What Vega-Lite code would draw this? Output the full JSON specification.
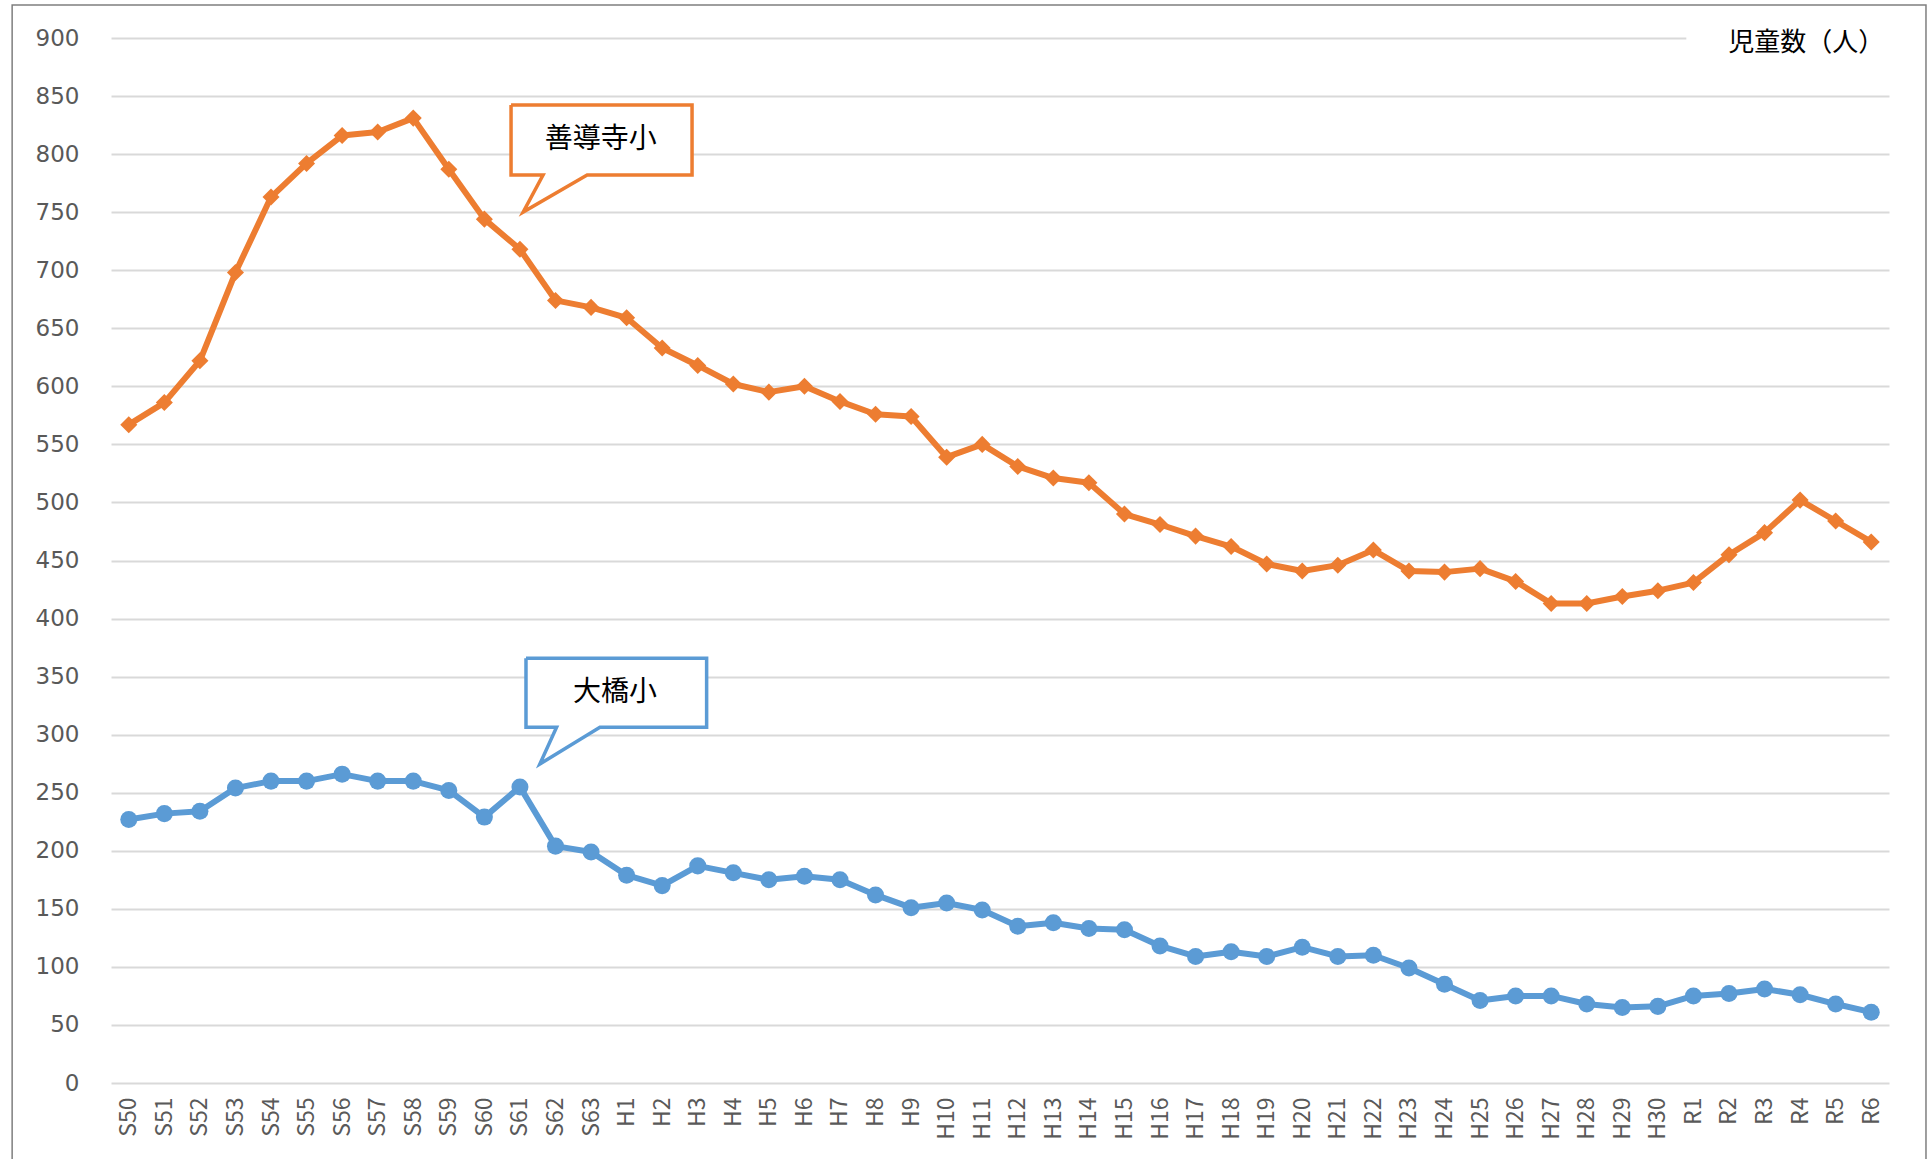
{
  "$schema": "https://vega.github.io/schema/vega-lite/v6.json",
  "width": 1778,
  "height": 1045,
  "autosize": {"type": "none"},
  "padding": {"left": 111, "top": 38, "right": 41, "bottom": 76},
  "background": "white",
  "config": {"view": {"stroke": null}},
  "datasets": {
    "series": [
      {"cat": "S50", "school": "善導寺小", "v": 567}, {"cat": "S51", "school": "善導寺小", "v": 586}, {"cat": "S52", "school": "善導寺小", "v": 622}, {"cat": "S53", "school": "善導寺小", "v": 698}, {"cat": "S54", "school": "善導寺小", "v": 763}, {"cat": "S55", "school": "善導寺小", "v": 792}, {"cat": "S56", "school": "善導寺小", "v": 816}, {"cat": "S57", "school": "善導寺小", "v": 819}, {"cat": "S58", "school": "善導寺小", "v": 831}, {"cat": "S59", "school": "善導寺小", "v": 787},
      {"cat": "S60", "school": "善導寺小", "v": 744}, {"cat": "S61", "school": "善導寺小", "v": 718}, {"cat": "S62", "school": "善導寺小", "v": 674}, {"cat": "S63", "school": "善導寺小", "v": 668}, {"cat": "H1", "school": "善導寺小", "v": 659}, {"cat": "H2", "school": "善導寺小", "v": 633}, {"cat": "H3", "school": "善導寺小", "v": 618}, {"cat": "H4", "school": "善導寺小", "v": 602}, {"cat": "H5", "school": "善導寺小", "v": 595}, {"cat": "H6", "school": "善導寺小", "v": 600},
      {"cat": "H7", "school": "善導寺小", "v": 587}, {"cat": "H8", "school": "善導寺小", "v": 576}, {"cat": "H9", "school": "善導寺小", "v": 574}, {"cat": "H10", "school": "善導寺小", "v": 539}, {"cat": "H11", "school": "善導寺小", "v": 550}, {"cat": "H12", "school": "善導寺小", "v": 531}, {"cat": "H13", "school": "善導寺小", "v": 521}, {"cat": "H14", "school": "善導寺小", "v": 517}, {"cat": "H15", "school": "善導寺小", "v": 490}, {"cat": "H16", "school": "善導寺小", "v": 481},
      {"cat": "H17", "school": "善導寺小", "v": 471}, {"cat": "H18", "school": "善導寺小", "v": 462}, {"cat": "H19", "school": "善導寺小", "v": 447}, {"cat": "H20", "school": "善導寺小", "v": 441}, {"cat": "H21", "school": "善導寺小", "v": 446}, {"cat": "H22", "school": "善導寺小", "v": 459}, {"cat": "H23", "school": "善導寺小", "v": 441}, {"cat": "H24", "school": "善導寺小", "v": 440}, {"cat": "H25", "school": "善導寺小", "v": 443}, {"cat": "H26", "school": "善導寺小", "v": 432},
      {"cat": "H27", "school": "善導寺小", "v": 413}, {"cat": "H28", "school": "善導寺小", "v": 413}, {"cat": "H29", "school": "善導寺小", "v": 419}, {"cat": "H30", "school": "善導寺小", "v": 424}, {"cat": "R1", "school": "善導寺小", "v": 431}, {"cat": "R2", "school": "善導寺小", "v": 455}, {"cat": "R3", "school": "善導寺小", "v": 474}, {"cat": "R4", "school": "善導寺小", "v": 502}, {"cat": "R5", "school": "善導寺小", "v": 484}, {"cat": "R6", "school": "善導寺小", "v": 466},
      {"cat": "S50", "school": "大橋小", "v": 227}, {"cat": "S51", "school": "大橋小", "v": 232}, {"cat": "S52", "school": "大橋小", "v": 234}, {"cat": "S53", "school": "大橋小", "v": 254}, {"cat": "S54", "school": "大橋小", "v": 260}, {"cat": "S55", "school": "大橋小", "v": 260}, {"cat": "S56", "school": "大橋小", "v": 266}, {"cat": "S57", "school": "大橋小", "v": 260}, {"cat": "S58", "school": "大橋小", "v": 260}, {"cat": "S59", "school": "大橋小", "v": 252},
      {"cat": "S60", "school": "大橋小", "v": 229}, {"cat": "S61", "school": "大橋小", "v": 255}, {"cat": "S62", "school": "大橋小", "v": 204}, {"cat": "S63", "school": "大橋小", "v": 199}, {"cat": "H1", "school": "大橋小", "v": 179}, {"cat": "H2", "school": "大橋小", "v": 170}, {"cat": "H3", "school": "大橋小", "v": 187}, {"cat": "H4", "school": "大橋小", "v": 181}, {"cat": "H5", "school": "大橋小", "v": 175}, {"cat": "H6", "school": "大橋小", "v": 178},
      {"cat": "H7", "school": "大橋小", "v": 175}, {"cat": "H8", "school": "大橋小", "v": 162}, {"cat": "H9", "school": "大橋小", "v": 151}, {"cat": "H10", "school": "大橋小", "v": 155}, {"cat": "H11", "school": "大橋小", "v": 149}, {"cat": "H12", "school": "大橋小", "v": 135}, {"cat": "H13", "school": "大橋小", "v": 138}, {"cat": "H14", "school": "大橋小", "v": 133}, {"cat": "H15", "school": "大橋小", "v": 132}, {"cat": "H16", "school": "大橋小", "v": 118},
      {"cat": "H17", "school": "大橋小", "v": 109}, {"cat": "H18", "school": "大橋小", "v": 113}, {"cat": "H19", "school": "大橋小", "v": 109}, {"cat": "H20", "school": "大橋小", "v": 117}, {"cat": "H21", "school": "大橋小", "v": 109}, {"cat": "H22", "school": "大橋小", "v": 110}, {"cat": "H23", "school": "大橋小", "v": 99}, {"cat": "H24", "school": "大橋小", "v": 85}, {"cat": "H25", "school": "大橋小", "v": 71}, {"cat": "H26", "school": "大橋小", "v": 75},
      {"cat": "H27", "school": "大橋小", "v": 75}, {"cat": "H28", "school": "大橋小", "v": 68}, {"cat": "H29", "school": "大橋小", "v": 65}, {"cat": "H30", "school": "大橋小", "v": 66}, {"cat": "R1", "school": "大橋小", "v": 75}, {"cat": "R2", "school": "大橋小", "v": 77}, {"cat": "R3", "school": "大橋小", "v": 81}, {"cat": "R4", "school": "大橋小", "v": 76}, {"cat": "R5", "school": "大橋小", "v": 68}, {"cat": "R6", "school": "大橋小", "v": 61}
    ],
    "callouts": [
      {"school": "善導寺小", "o": 1, "x": 11.25, "y": 842.3}, {"school": "善導寺小", "o": 2, "x": 16.34, "y": 842.3}, {"school": "善導寺小", "o": 3, "x": 16.34, "y": 782.0}, {"school": "善導寺小", "o": 4, "x": 13.39, "y": 782.0}, {"school": "善導寺小", "o": 5, "x": 11.59, "y": 750.1}, {"school": "善導寺小", "o": 6, "x": 12.15, "y": 782.0}, {"school": "善導寺小", "o": 7, "x": 11.25, "y": 782.0}, {"school": "善導寺小", "o": 8, "x": 11.25, "y": 842.3},
      {"school": "大橋小", "o": 1, "x": 11.67, "y": 365.8}, {"school": "大橋小", "o": 2, "x": 16.75, "y": 365.8}, {"school": "大橋小", "o": 3, "x": 16.75, "y": 306.4}, {"school": "大橋小", "o": 4, "x": 13.75, "y": 306.4}, {"school": "大橋小", "o": 5, "x": 12.06, "y": 274.7}, {"school": "大橋小", "o": 6, "x": 12.53, "y": 306.4}, {"school": "大橋小", "o": 7, "x": 11.67, "y": 306.4}, {"school": "大橋小", "o": 8, "x": 11.67, "y": 365.8}
    ],
    "labels": [
      {"label": "善導寺小", "x": 13.77, "y": 812.2, "size": 28},
      {"label": "大橋小", "x": 14.17, "y": 336.3, "size": 28},
      {"label": "児童数（人）", "x": 47.67, "y": 895.7, "size": 26}
    ],
    "frame": [{"x": -2.78, "x2": 51.04, "y": 928.4, "y2": -80}],
    "cover": [{"x": 44.3, "x2": 50.6, "y": 886, "y2": 914}]
  },
  "layer": [
    {
      "data": {"name": "series"},
      "encoding": {
        "x": {
          "field": "cat", "type": "nominal", "sort": null,
          "scale": {"type": "point", "padding": 0.5},
          "axis": {"title": null, "labelAngle": -90, "labelAlign": "right", "labelBaseline": "middle", "labelPadding": 14, "labelFontSize": 23, "labelFont": "Noto Sans CJK JP", "labelColor": "#595959", "ticks": false, "domain": false, "grid": false, "labelOverlap": false}
        },
        "y": {
          "field": "v", "type": "quantitative",
          "scale": {"domain": [0, 900], "nice": false},
          "axis": {"title": null, "values": [0, 50, 100, 150, 200, 250, 300, 350, 400, 450, 500, 550, 600, 650, 700, 750, 800, 850, 900], "grid": true, "gridColor": "#D9D9D9", "gridWidth": 2, "domain": false, "ticks": false, "tickSize": 0, "labelPadding": 32, "labelFontSize": 23, "labelFont": "DejaVu Sans", "labelColor": "#595959"}
        },
        "color": {"field": "school", "type": "nominal", "scale": {"domain": ["善導寺小", "大橋小"], "range": ["#ED7D31", "#5B9BD5"]}, "legend": null}
      },
      "layer": [
        {"mark": {"type": "line", "strokeWidth": 6, "strokeJoin": "round"}},
        {
          "mark": {"type": "point", "filled": true, "opacity": 1, "size": 290},
          "encoding": {"shape": {"field": "school", "type": "nominal", "scale": {"domain": ["善導寺小", "大橋小"], "range": ["diamond", "circle"]}, "legend": null}}
        }
      ]
    },
    {
      "data": {"name": "frame"},
      "mark": {"type": "rect", "fill": "white", "fillOpacity": 0, "stroke": "#7F7F7F", "strokeWidth": 1.5},
      "encoding": {
        "x": {"field": "x", "type": "quantitative", "scale": {"domain": [0, 50], "nice": false, "zero": false}, "axis": null},
        "x2": {"field": "x2"},
        "y": {"field": "y", "type": "quantitative", "scale": {"domain": [0, 900], "nice": false}, "axis": {"title": null, "values": [0, 50, 100, 150, 200, 250, 300, 350, 400, 450, 500, 550, 600, 650, 700, 750, 800, 850, 900], "grid": true, "gridColor": "#D9D9D9", "gridWidth": 2, "domain": false, "ticks": false, "tickSize": 0, "labelPadding": 32, "labelFontSize": 23, "labelFont": "DejaVu Sans", "labelColor": "#595959"}},
        "y2": {"field": "y2"}
      }
    },
    {
      "data": {"name": "cover"},
      "mark": {"type": "rect", "fill": "white", "stroke": null},
      "encoding": {
        "x": {"field": "x", "type": "quantitative", "scale": {"domain": [0, 50], "nice": false, "zero": false}, "axis": null},
        "x2": {"field": "x2"},
        "y": {"field": "y", "type": "quantitative", "scale": {"domain": [0, 900], "nice": false}, "axis": {"title": null, "values": [0, 50, 100, 150, 200, 250, 300, 350, 400, 450, 500, 550, 600, 650, 700, 750, 800, 850, 900], "grid": true, "gridColor": "#D9D9D9", "gridWidth": 2, "domain": false, "ticks": false, "tickSize": 0, "labelPadding": 32, "labelFontSize": 23, "labelFont": "DejaVu Sans", "labelColor": "#595959"}},
        "y2": {"field": "y2"}
      }
    },
    {
      "data": {"name": "callouts"},
      "mark": {"type": "line", "fill": "white", "strokeWidth": 3.5, "strokeJoin": "miter"},
      "encoding": {
        "x": {"field": "x", "type": "quantitative", "scale": {"domain": [0, 50], "nice": false, "zero": false}, "axis": null},
        "y": {"field": "y", "type": "quantitative", "scale": {"domain": [0, 900], "nice": false}, "axis": {"title": null, "values": [0, 50, 100, 150, 200, 250, 300, 350, 400, 450, 500, 550, 600, 650, 700, 750, 800, 850, 900], "grid": true, "gridColor": "#D9D9D9", "gridWidth": 2, "domain": false, "ticks": false, "tickSize": 0, "labelPadding": 32, "labelFontSize": 23, "labelFont": "DejaVu Sans", "labelColor": "#595959"}},
        "order": {"field": "o", "type": "quantitative"},
        "color": {"field": "school", "type": "nominal", "scale": {"domain": ["善導寺小", "大橋小"], "range": ["#ED7D31", "#5B9BD5"]}, "legend": null}
      }
    },
    {
      "data": {"name": "labels"},
      "mark": {"type": "text", "font": "Noto Sans CJK JP", "color": "#000000", "align": "center", "baseline": "middle"},
      "encoding": {
        "x": {"field": "x", "type": "quantitative", "scale": {"domain": [0, 50], "nice": false, "zero": false}, "axis": null},
        "y": {"field": "y", "type": "quantitative", "scale": {"domain": [0, 900], "nice": false}, "axis": {"title": null, "values": [0, 50, 100, 150, 200, 250, 300, 350, 400, 450, 500, 550, 600, 650, 700, 750, 800, 850, 900], "grid": true, "gridColor": "#D9D9D9", "gridWidth": 2, "domain": false, "ticks": false, "tickSize": 0, "labelPadding": 32, "labelFontSize": 23, "labelFont": "DejaVu Sans", "labelColor": "#595959"}},
        "text": {"field": "label"},
        "size": {"field": "size", "type": "quantitative", "scale": null}
      }
    }
  ],
  "resolve": {"scale": {"x": "independent"}}
}
